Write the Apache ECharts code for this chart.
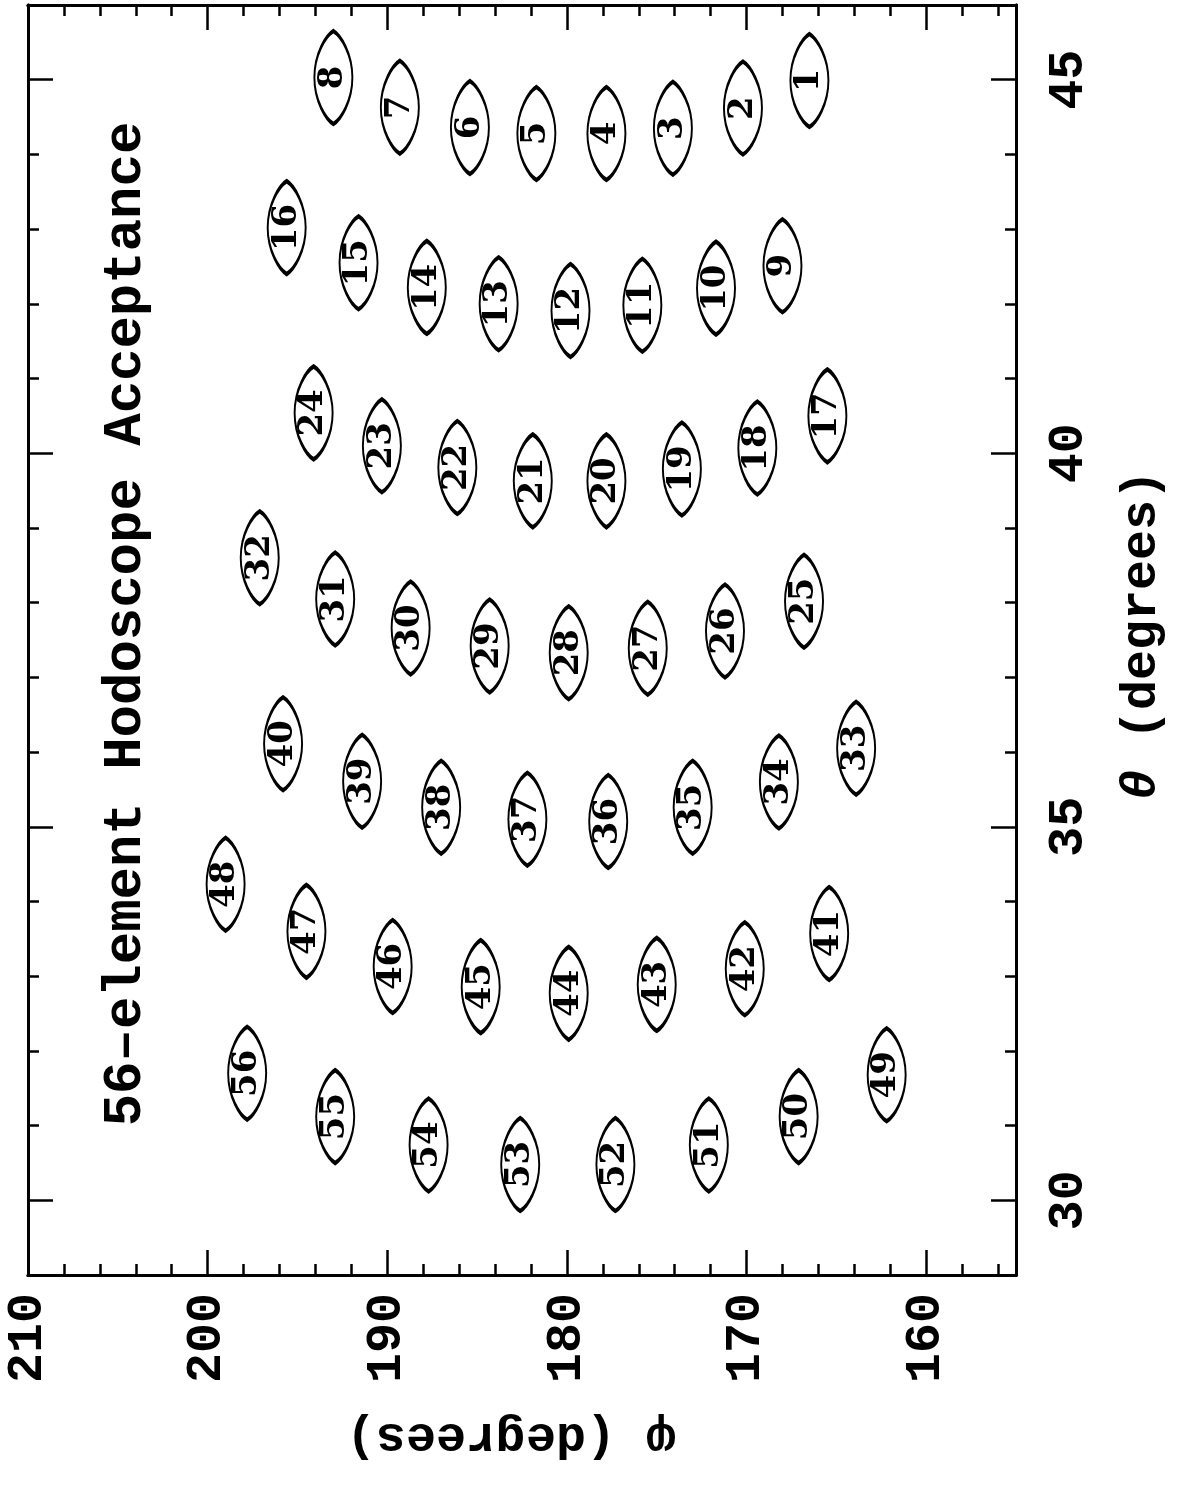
<!DOCTYPE html>
<html>
<head>
<meta charset="utf-8">
<title>56-element Hodoscope Acceptance</title>
<script src="https://cdn.jsdelivr.net/npm/echarts@6/dist/echarts.min.js"></script>
<style>
  html, body { margin: 0; padding: 0; background: #fff; }
  #chart { width: 1181px; height: 1487px; }
</style>
</head>
<body>
<div id="chart"></div>
<script>
// Hodoscope element numbers and the (phi, theta) centre of each element's acceptance
const elementIds = [
   1,  2,  3,  4,  5,  6,  7,  8,
   9, 10, 11, 12, 13, 14, 15, 16,
  17, 18, 19, 20, 21, 22, 23, 24,
  25, 26, 27, 28, 29, 30, 31, 32,
  33, 34, 35, 36, 37, 38, 39, 40,
  41, 42, 43, 44, 45, 46, 47, 48,
  49, 50, 51, 52, 53, 54, 55, 56
];
const phiDeg = [
  166.5, 170.2, 174.1, 177.8, 181.7, 185.4, 189.3, 193.0,
  168.0, 171.7, 175.8, 179.8, 183.8, 187.8, 191.6, 195.6,
  165.5, 169.4, 173.6, 177.8, 181.9, 186.1, 190.3, 194.1,
  166.8, 171.2, 175.5, 179.9, 184.3, 188.7, 192.9, 197.1,
  163.9, 168.2, 173.0, 177.7, 182.2, 187.0, 191.4, 195.8,
  165.4, 170.1, 175.0, 179.9, 184.8, 189.7, 194.5, 199.0,
  162.2, 167.1, 172.1, 177.3, 182.6, 187.7, 192.9, 197.8
];
const thetaDeg = [
  44.99, 44.62, 44.35, 44.28, 44.28, 44.36, 44.63, 45.03,
  42.51, 42.21, 41.98, 41.91, 42.00, 42.22, 42.55, 43.02,
  40.50, 40.07, 39.79, 39.63, 39.63, 39.81, 40.10, 40.54,
  38.02, 37.62, 37.39, 37.33, 37.42, 37.66, 38.05, 38.60,
  36.05, 35.60, 35.26, 35.07, 35.10, 35.26, 35.61, 36.11,
  33.57, 33.10, 32.89, 32.77, 32.86, 33.13, 33.60, 34.23,
  31.68, 31.12, 30.74, 30.48, 30.48, 30.74, 31.12, 31.70
];

// Axis ranges and tick positions
const phiRange = [155, 210];
const thetaRange = [29, 46];
const phiMajorTicks = [160, 170, 180, 190, 200];
const phiLabels = [160, 170, 180, 190, 200, 210];
const phiMinorTicks = [156, 158, 162, 164, 166, 168, 172, 174, 176, 178,
                       182, 184, 186, 188, 192, 194, 196, 198, 202, 204, 206, 208];
const thetaMajorTicks = [30, 35, 40, 45];
const thetaMinorTicks = [31, 32, 33, 34, 36, 37, 38, 39, 41, 42, 43, 44];

const titleText = '56–element Hodoscope Acceptance';
const phiName = 'φ (degrees)';
const thetaName = '{i|θ} (degrees)';

const monoFont = '"Liberation Mono", "DejaVu Sans Mono", monospace';
const ink = '#000';

const points = elementIds.map((id, i) => [phiDeg[i], thetaDeg[i], id]);

// one axis per side and tick class; every axis draws part of the frame
function phiAxis(position, ticks, len, labels) {
  return {
    type: 'value', min: phiRange[0], max: phiRange[1], inverse: true,
    position: position, gridIndex: 0,
    axisLine: { show: true, onZero: false, lineStyle: { color: ink, width: 3 } },
    axisTick: { show: true, inside: true, length: len, customValues: ticks,
                lineStyle: { color: ink, width: 2.5 } },
    axisLabel: labels ? {
      show: true, customValues: labels, rotate: 90, margin: 18,
      fontFamily: monoFont, fontWeight: 'bold', fontSize: 50, color: ink
    } : { show: false },
    splitLine: { show: false }
  };
}
function thetaAxis(position, ticks, len, labels) {
  return {
    type: 'value', min: thetaRange[0], max: thetaRange[1],
    position: position, gridIndex: 0,
    axisLine: { show: true, onZero: false, lineStyle: { color: ink, width: 3 } },
    axisTick: { show: true, inside: true, length: len, customValues: ticks,
                lineStyle: { color: ink, width: 2.5 } },
    axisLabel: labels ? {
      show: true, customValues: labels, rotate: 90, margin: 28,
      fontFamily: monoFont, fontWeight: 'bold', fontSize: 50, color: ink
    } : { show: false },
    splitLine: { show: false }
  };
}

const chart = echarts.init(document.getElementById('chart'), null, { renderer: 'canvas' });

chart.setOption({
  backgroundColor: '#fff',
  animation: false,
  grid: { left: 28, right: 165, top: 5, bottom: 212, containLabel: false },
  xAxis: [
    phiAxis('bottom', phiMajorTicks, 25, phiLabels),
    phiAxis('bottom', phiMinorTicks, 11, null),
    phiAxis('top', phiMajorTicks, 25, null),
    phiAxis('top', phiMinorTicks, 11, null)
  ],
  yAxis: [
    thetaAxis('right', thetaMajorTicks, 25, thetaMajorTicks),
    thetaAxis('right', thetaMinorTicks, 11, null),
    thetaAxis('left', thetaMajorTicks, 25, null),
    thetaAxis('left', thetaMinorTicks, 11, null)
  ],
  series: [{
    type: 'scatter',
    xAxisIndex: 0, yAxisIndex: 0,
    data: points,
    // an ellipse with slightly pointed ends
    symbol: 'path://M20,0 C28,5 40,25 40,50 C40,75 28,95 20,100 C12,95 0,75 0,50 C0,25 12,5 20,0 Z',
    symbolSize: [38, 93],
    itemStyle: { color: '#fff', borderColor: ink, borderWidth: 3, opacity: 1 },
    label: {
      show: true, position: 'inside', rotate: 90,
      formatter: p => String(p.value[2]),
      fontFamily: '"DejaVu Serif", "Liberation Serif", serif',
      fontWeight: 'bold', fontSize: 34, color: ink
    },
    emphasis: { disabled: true },
    z: 3
  }],
  graphic: [
    {
      type: 'text', x: 126, y: 624, rotation: Math.PI / 2,
      style: {
        text: titleText, fill: ink,
        font: 'bold 54px ' + monoFont,
        textAlign: 'center', textVerticalAlign: 'middle'
      }
    },
    {
      type: 'text', x: 511, y: 1437, rotation: Math.PI,
      style: {
        text: phiName, fill: ink,
        font: 'bold 50px ' + monoFont,
        textAlign: 'center', textVerticalAlign: 'middle'
      }
    },
    {
      type: 'text', x: 1142, y: 635, rotation: Math.PI / 2,
      style: {
        text: thetaName, fill: ink,
        font: 'bold 50px ' + monoFont,
        textAlign: 'center', textVerticalAlign: 'middle',
        rich: {
          i: { font: 'italic bold 50px ' + monoFont, fill: ink }
        }
      }
    }
  ]
});
</script>
</body>
</html>
